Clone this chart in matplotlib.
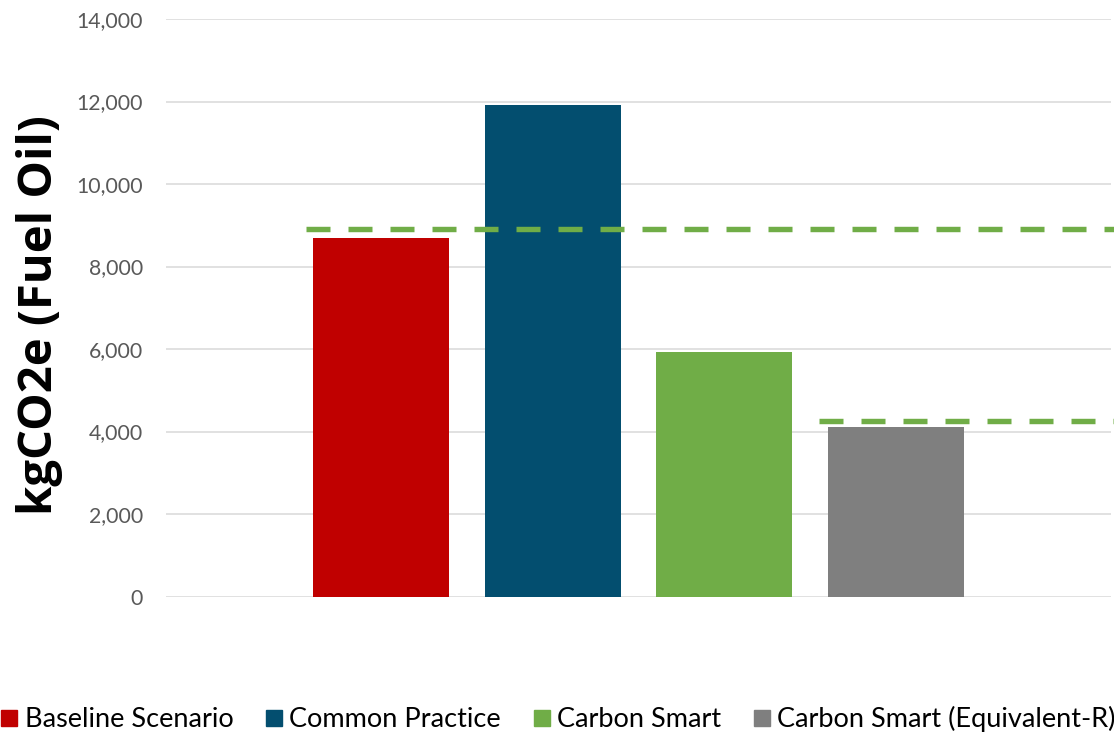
import matplotlib
matplotlib.use("Agg")
import matplotlib.pyplot as plt
from matplotlib.lines import Line2D
from matplotlib.ticker import FuncFormatter

# Data
series = ["Baseline Scenario", "Common Practice", "Carbon Smart", "Carbon Smart (Equivalent-R)"]
values = [8690, 11915, 5927, 4109]
colors = ["#C00000", "#034E6F", "#70AD47", "#7F7F7F"]
target_upper = 8909
target_lower = 4255
y_ticks = [0, 2000, 4000, 6000, 8000, 10000, 12000, 14000]

plt.rcParams["font.family"] = ["Lato", "DejaVu Sans"]

fig = plt.figure(figsize=(11.14, 7.37), dpi=100)
ax = fig.add_axes([0.149, 0.1906, 0.8483, 0.7836])

positions = list(range(len(series)))
bar_w = 0.793
ax.bar(positions, values, width=bar_w, color=colors, zorder=2)

ax.set_xlim(1.5 - 2.755, 1.5 + 2.755)
ax.set_ylim(0, 14000)
ax.set_yticks(y_ticks)
ax.yaxis.set_major_formatter(FuncFormatter(lambda v, p: f"{int(v):,}"))
ax.set_xticks([])
ax.grid(axis="y", color="#D9D9D9", linewidth=1.1, zorder=0)
for s in ax.spines.values():
    s.set_visible(False)
ax.tick_params(axis="y", length=0, pad=16.5, labelsize=15.3, labelcolor="#595959")

# Dashed reference levels
dash = dict(color="#70AD47", linewidth=3.9, dashes=(4.431, 3.323), zorder=3, clip_on=False)
ax.plot([positions[0] - bar_w / 2 - 0.04, 4.7], [target_upper, target_upper], **dash)
ax.plot([positions[3] - bar_w / 2 - 0.0515, 4.7], [target_lower, target_lower], **dash)

ax.set_ylabel("kgCO2e (Fuel Oil)", fontsize=34, fontweight="bold", color="black",
              family=["Open Sans", "DejaVu Sans"])
ax.yaxis.set_label_coords(-0.109, 0.488)

handles = [Line2D([], [], marker="s", linestyle="none", markersize=11,
                  markerfacecolor=c, markeredgecolor=c) for c in colors]
fig.legend(handles, series, loc="center", bbox_to_anchor=(0.5, 0.024), ncol=4,
           frameon=False, fontsize=19.5, handlelength=0.8, handletextpad=0.17,
           columnspacing=1.1, borderaxespad=0, borderpad=0)

fig.savefig("out.png", dpi=100)
